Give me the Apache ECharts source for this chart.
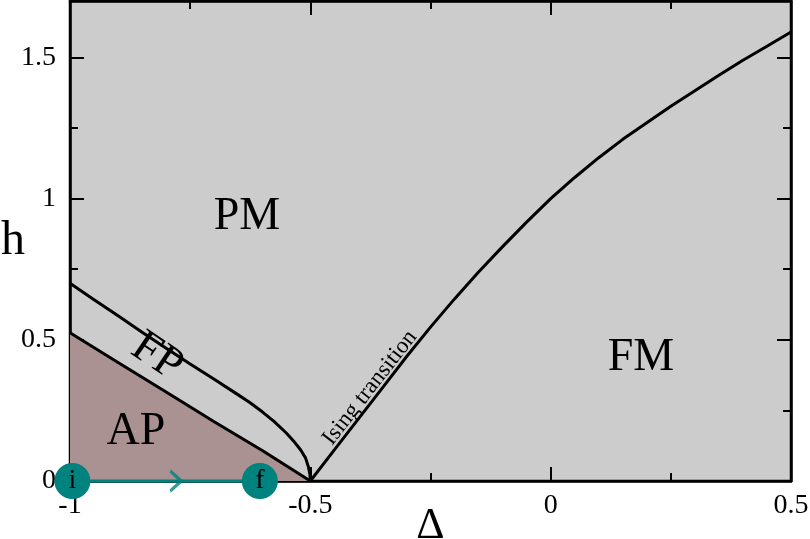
<!DOCTYPE html>
<html>
<head>
<meta charset="utf-8">
<script src="https://cdn.jsdelivr.net/npm/echarts@6/dist/echarts.min.js"></script>
<style>html,body{margin:0;padding:0;background:#fff}#c{width:810px;height:539px}</style>
</head>
<body>
<div id="c"></div>
<script>
// ---- data ----
const apX = [-1, -0.9, -0.8, -0.7, -0.6, -0.5];
const apH = [0.525, 0.42, 0.315, 0.21, 0.108, 0];
const fpX = [-1, -0.95, -0.9, -0.85, -0.8, -0.75, -0.7, -0.65, -0.626, -0.6, -0.575, -0.55, -0.535, -0.52, -0.51, -0.504, -0.501, -0.5];
const fpH = [0.70, 0.642, 0.585, 0.527, 0.47, 0.414, 0.36, 0.305, 0.278, 0.245, 0.21, 0.17, 0.142, 0.11, 0.082, 0.05, 0.025, 0];
const isingX = [-0.5, -0.45, -0.4, -0.35, -0.3, -0.25, -0.2, -0.15, -0.1, -0.05, 0, 0.05, 0.1, 0.15, 0.2, 0.25, 0.3, 0.35, 0.4, 0.45, 0.5];
const isingH = [0, 0.11, 0.22, 0.33, 0.44, 0.545, 0.645, 0.74, 0.83, 0.917, 1.0, 1.075, 1.145, 1.21, 1.269, 1.327, 1.382, 1.437, 1.49, 1.54, 1.59];
const quenchX = [-0.995, -0.605];
const quenchH = [0, 0];
const quenchNames = ['i', 'f'];
const arrowX = [-0.78];
const regionNames = ['PM', 'FM', 'AP', 'FP', 'Ising transition'];
const regionX = [-0.632, 0.188, -0.863, -0.819, -0.376];
const regionH = [0.936, 0.436, 0.174, 0.44, 0.33];
const regionRot = [0, 0, 0, -34, 52];
const regionSize = [46, 46, 46, 46, 23];
const xTickLabels = ['-1', '-0.5', '0', '0.5'];
const yTickLabels = ['0', '0.5', '1', '1.5'];

const FONT = "'Liberation Serif','Times New Roman',serif";
const TEAL = '#00827e';
const zip = (a, b) => a.map((v, i) => [v, b[i]]);

const fmtX = v => { const s = String(Math.round(v * 100) / 100); return xTickLabels.includes(s) ? s : ''; };
const fmtY = v => { const s = String(Math.round(v * 100) / 100); return yTickLabels.includes(s) ? s : ''; };

function xAx(pos, major, show) {
  return {
    type: 'value', position: pos, min: -1, max: 0.5,
    interval: major ? 0.5 : 0.25,
    axisLine: { show: show, onZero: false, lineStyle: { color: '#000', width: 2.5 } },
    axisTick: { show: true, inside: true, length: major ? 14 : 8, lineStyle: { color: '#000', width: 2 } },
    axisLabel: { show: major && pos === 'bottom', formatter: fmtX, fontFamily: FONT, fontSize: 28, color: '#000', margin: 11 },
    splitLine: { show: false },
    name: (major && pos === 'bottom') ? 'Δ' : '',
    nameLocation: 'middle', nameGap: 23, nameMoveOverlap: false,
    nameTextStyle: { fontFamily: FONT, fontSize: 44, color: '#000', verticalAlign: 'top' }
  };
}
function yAx(pos, major, show) {
  return {
    type: 'value', position: pos, min: 0, max: 1.70,
    interval: major ? 0.5 : 0.25,
    axisLine: { show: show, onZero: false, lineStyle: { color: '#000', width: 2.5 } },
    axisTick: { show: true, inside: true, length: major ? 14 : 8, lineStyle: { color: '#000', width: 2 } },
    axisLabel: { show: major && pos === 'left', formatter: fmtY, showMaxLabel: false, fontFamily: FONT, fontSize: 28, color: '#000', margin: 14 },
    splitLine: { show: false },
    name: (major && pos === 'left') ? 'h' : '',
    nameLocation: 'middle', nameGap: 45, nameRotate: 0, nameMoveOverlap: false,
    nameTextStyle: { fontFamily: FONT, fontSize: 48, color: '#000', align: 'right' }
  };
}

const chart = echarts.init(document.getElementById('c'));
chart.setOption({
  animation: false,
  backgroundColor: '#fff',
  grid: { left: 70, right: 19, top: 1, bottom: 58, containLabel: false, outerBoundsMode: 'none',
          show: true, backgroundColor: '#cccccc', borderColor: '#000', borderWidth: 2.5 },
  xAxis: [xAx('bottom', true, true), xAx('bottom', false, false), xAx('top', true, true), xAx('top', false, false)],
  yAxis: [yAx('left', true, true), yAx('left', false, false), yAx('right', true, true), yAx('right', false, false)],
  series: [
    {
      type: 'line', data: zip(apX, apH), symbol: 'none', smooth: false,
      lineStyle: { color: '#000', width: 3 },
      areaStyle: { color: '#ab9292', opacity: 1 }, z: 2
    },
    {
      type: 'line', data: zip(fpX, fpH), symbol: 'none', smooth: false,
      lineStyle: { color: '#000', width: 3, join: 'round' }, z: 3
    },
    {
      type: 'line', data: zip(isingX, isingH), symbol: 'none', smooth: false,
      lineStyle: { color: '#000', width: 3, join: 'round' }, z: 3
    },
    {
      type: 'line', data: zip(quenchX, quenchH), symbol: 'none', clip: false,
      lineStyle: { color: TEAL, width: 3 }, z: 10
    },
    {
      type: 'scatter', data: arrowX.map(x => [x, 0]), clip: false,
      symbol: 'path://M0,0L10,10L0,20', symbolSize: [11, 20],
      itemStyle: { color: 'transparent', borderColor: TEAL, borderWidth: 3 }, z: 11
    },
    {
      type: 'scatter', clip: false, z: 12,
      data: quenchX.map((x, i) => ({ value: [x, quenchH[i]], name: quenchNames[i] })),
      symbol: 'circle', symbolSize: 36,
      itemStyle: { color: TEAL, opacity: 1 },
      label: { show: true, position: 'inside', formatter: p => p.name, fontFamily: FONT, fontSize: 28, color: '#000' }
    },
    {
      type: 'scatter', clip: false, z: 13, symbolSize: 1, symbol: 'circle',
      itemStyle: { color: '#cccccc', opacity: 1 },
      data: regionNames.map((n, i) => ({
        value: [regionX[i], regionH[i]], name: n,
        label: { rotate: regionRot[i], fontSize: regionSize[i], color: '#000' }
      })),
      label: { show: true, position: 'inside', formatter: p => p.name, fontFamily: FONT, color: '#000',
               textBorderWidth: 0, opacity: 1 }
    }
  ]
});
</script>
</body>
</html>
